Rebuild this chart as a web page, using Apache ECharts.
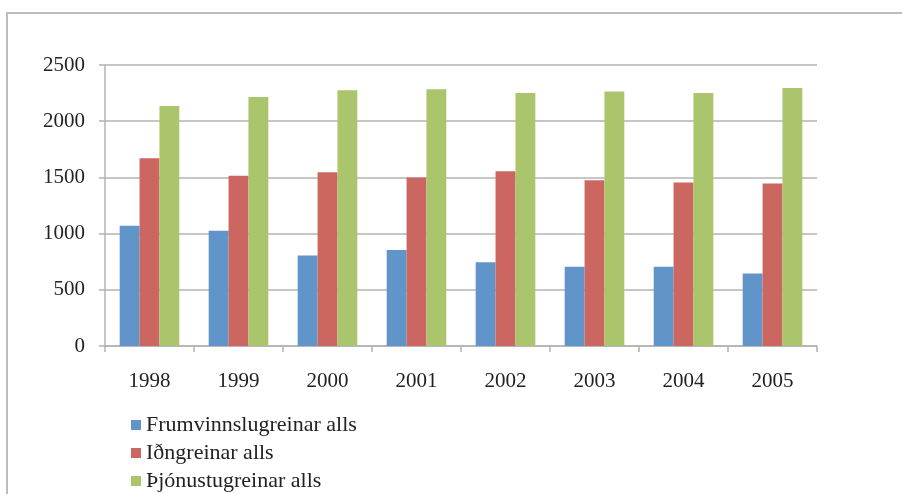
<!DOCTYPE html>
<html><head><meta charset="utf-8">
<script src="https://cdn.jsdelivr.net/npm/echarts@6/dist/echarts.min.js"></script>
<style>html,body{margin:0;padding:0;background:#fff}#c{width:902px;height:494px}</style>
</head><body><div id="c"></div>
<script>
const categories = ['1998','1999','2000','2001','2002','2003','2004','2005'];
const frumvinnsla = [1070, 1025, 805, 855, 745, 705, 705, 645];
const idngreinar = [1670, 1515, 1545, 1500, 1555, 1475, 1455, 1445];
const thjonusta = [2135, 2215, 2275, 2285, 2250, 2265, 2250, 2295];
const seriesNames = ['Frumvinnslugreinar alls', 'Iðngreinar alls', 'Þjónustugreinar alls'];
const yTicks = {min: 0, max: 2500, interval: 500};

const colors = ['#6194C8', '#CC6660', '#ABC56C'];
const font = '"Liberation Serif", "Times New Roman", serif';
const chart = echarts.init(document.getElementById('c'));
const mk = (name, data, i) => ({
  name, type: 'bar', data, barGap: '0%', barCategoryGap: '33%',
  itemStyle: {color: colors[i]}
});
chart.setOption({
  animation: false,
  graphic: [{type: 'rect', shape: {x: 7, y: 13, width: 2000, height: 1000},
    style: {fill: 'none', stroke: '#bdbdbd', lineWidth: 2}}],
  grid: {left: 105, right: 85, top: 65, bottom: 148},
  legend: {
    orient: 'vertical', left: 126, top: 409, height: 120, icon: 'rect', itemWidth: 10, itemHeight: 10,
    itemGap: 6, textStyle: {fontFamily: font, fontSize: 22, color: '#222'},
    data: seriesNames
  },
  xAxis: {
    type: 'category', data: categories,
    axisLine: {lineStyle: {color: '#b3b3b3', width: 1.5}},
    axisTick: {show: true, length: 6, lineStyle: {color: '#b3b3b3', width: 1.5}},
    axisLabel: {fontFamily: font, fontSize: 21, color: '#222', margin: 25}
  },
  yAxis: {
    type: 'value', min: yTicks.min, max: yTicks.max, interval: yTicks.interval,
    axisLine: {show: true, lineStyle: {color: '#b3b3b3', width: 1.5}},
    axisTick: {show: true, length: 6, lineStyle: {color: '#b3b3b3', width: 1.5}},
    splitLine: {lineStyle: {color: '#b3b3b3', width: 1.5}},
    axisLabel: {fontFamily: font, fontSize: 21, color: '#222', margin: 20, formatter: v => String(v)}
  },
  series: [mk(seriesNames[0], frumvinnsla, 0), mk(seriesNames[1], idngreinar, 1), mk(seriesNames[2], thjonusta, 2)]
});
</script></body></html>
